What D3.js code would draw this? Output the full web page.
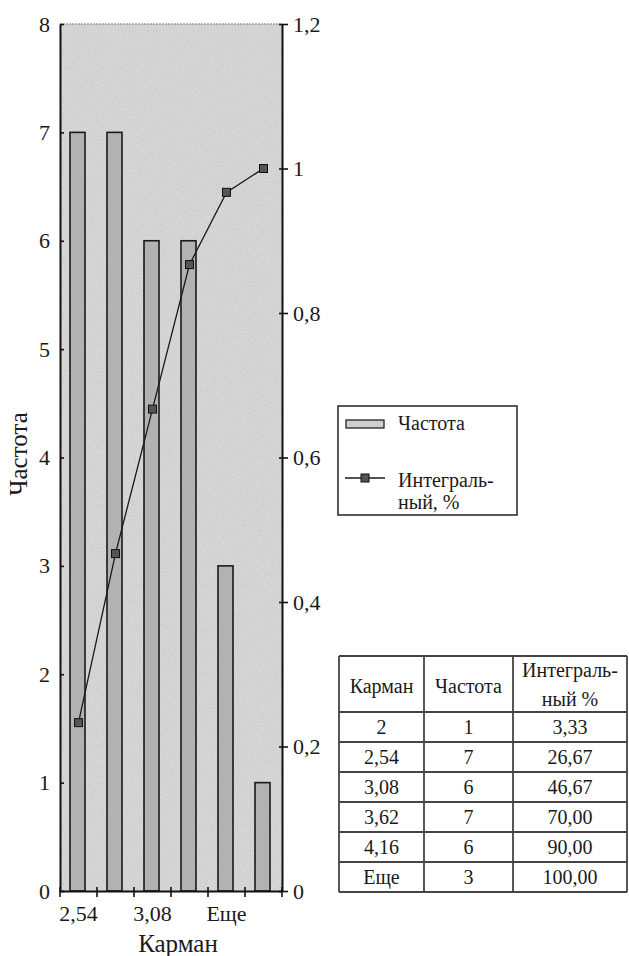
<!DOCTYPE html>
<html>
<head>
<meta charset="utf-8">
<script src="https://cdn.jsdelivr.net/npm/d3@7"></script>
<style>
  body { margin: 0; background: #fff; }
  svg { display: block; }
  svg text { font-family: "Liberation Serif", "Times New Roman", serif; }
</style>
</head>
<body>
<svg id="chart" width="629" height="956"></svg>
<script>
// chart data
var binIndex = [0, 1, 2, 3, 4, 5];
var tickLabels = ["2,54", "", "3,08", "", "Еще", ""];
var freq = [7, 7, 6, 6, 3, 1];
var cumul = [0.233, 0.467, 0.667, 0.867, 0.967, 1.0];
var leftTicks = [0, 1, 2, 3, 4, 5, 6, 7, 8];
var rightTicks = [0, 0.2, 0.4, 0.6, 0.8, 1, 1.2];

// table data
var tblBins = ["2", "2,54", "3,08", "3,62", "4,16", "Еще"];
var tblFreq = [1, 7, 6, 7, 6, 3];
var tblCum = [3.33, 26.67, 46.67, 70.00, 90.00, 100.00];

var ru = d3.formatLocale({ decimal: ",", thousands: " ", grouping: [3], currency: ["", ""] });
var fmtShort = ru.format("~g");
var fmt2 = ru.format(".2f");
var FONT = "Liberation Serif";

var svg = d3.select("#chart");
var m = { left: 60, right: 282, top: 24, bottom: 891 };

var x = d3.scaleBand().domain(binIndex).range([m.left, m.right]).padding(0);
var y = d3.scaleLinear().domain([0, 8]).range([m.bottom, m.top]);
var y2 = d3.scaleLinear().domain([0, 1.2]).range([m.bottom, m.top]);

// grain filter for the printed look
var defs = svg.append("defs");
var grain = defs.append("filter").attr("id", "grain")
    .attr("x", 0).attr("y", 0).attr("width", 1).attr("height", 1);
grain.append("feTurbulence").attr("type", "fractalNoise")
    .attr("baseFrequency", 0.9).attr("numOctaves", 2).attr("seed", 3).attr("result", "n");
grain.append("feColorMatrix").attr("in", "n").attr("type", "matrix")
    .attr("values", "0 0 0 0 0  0 0 0 0 0  0 0 0 0 0  0 0 0 -1.2 0.75");

// plot background
svg.append("rect")
    .attr("x", m.left).attr("y", m.top)
    .attr("width", m.right - m.left).attr("height", m.bottom - m.top)
    .attr("fill", "#d8d8d8");
svg.append("rect")
    .attr("x", m.left).attr("y", m.top)
    .attr("width", m.right - m.left).attr("height", m.bottom - m.top)
    .attr("fill", "#000").attr("opacity", 0.12)
    .attr("filter", "url(#grain)");
svg.append("line")
    .attr("x1", m.left).attr("x2", m.right)
    .attr("y1", m.top).attr("y2", m.top)
    .attr("stroke", "#777").attr("stroke-width", 1)
    .attr("stroke-dasharray", "2,1");

// bars
var barW = 15;
svg.append("g").selectAll("rect")
    .data(binIndex)
    .join("rect")
    .attr("x", function (d) { return x(d) + x.bandwidth() / 2 - barW / 2 - 1; })
    .attr("y", function (d) { return y(freq[d]); })
    .attr("width", barW)
    .attr("height", function (d) { return y(0) - y(freq[d]); })
    .attr("fill", "#b2b2b2")
    .attr("stroke", "#1a1a1a")
    .attr("stroke-width", 1.6);

// cumulative line
var line = d3.line()
    .x(function (d) { return x(d) + x.bandwidth() / 2; })
    .y(function (d) { return y2(cumul[d]); });
svg.append("path")
    .attr("d", line(binIndex))
    .attr("fill", "none")
    .attr("stroke", "#1a1a1a")
    .attr("stroke-width", 1.3);
svg.append("g").selectAll("rect")
    .data(binIndex)
    .join("rect")
    .attr("x", function (d) { return x(d) + x.bandwidth() / 2 - 4; })
    .attr("y", function (d) { return y2(cumul[d]) - 4; })
    .attr("width", 8).attr("height", 8)
    .attr("fill", "#555")
    .attr("stroke", "#111")
    .attr("stroke-width", 1);

// left axis
var gL = svg.append("g")
    .attr("transform", "translate(" + m.left + ",0)")
    .call(d3.axisLeft(y).tickValues(leftTicks).tickSizeInner(6).tickSizeOuter(0).tickPadding(4));
gL.selectAll(".tick line").attr("x2", 4);
// right axis
var gR = svg.append("g")
    .attr("transform", "translate(" + m.right + ",0)")
    .call(d3.axisRight(y2).tickValues(rightTicks).tickFormat(fmtShort).tickSizeInner(6).tickSizeOuter(0).tickPadding(5));
gR.selectAll(".tick line").attr("x1", -3);
// bottom axis: ticks on band boundaries, labels on centers
var gB = svg.append("g")
    .attr("transform", "translate(0," + m.bottom + ")")
    .call(d3.axisBottom(x).tickFormat(function (d) { return tickLabels[d]; }).tickSize(0).tickPadding(14));
gB.selectAll(".tick text").attr("dy", "0.71em");
gB.selectAll("line.bound")
    .data(d3.range(binIndex.length + 1))
    .join("line")
    .attr("class", "bound")
    .attr("x1", function (d) { return m.left + d * x.bandwidth(); })
    .attr("x2", function (d) { return m.left + d * x.bandwidth(); })
    .attr("y1", -4).attr("y2", 6)
    .attr("stroke", "#111").attr("stroke-width", 1.6);

[gL, gR, gB].forEach(function (g) {
    g.attr("font-family", FONT).attr("font-size", 22);
    g.select(".domain").attr("stroke", "#111").attr("stroke-width", 2);
    g.selectAll(".tick line").attr("stroke", "#111").attr("stroke-width", 1.6);
    g.selectAll(".tick text").attr("font-family", FONT).attr("font-size", 22).attr("fill", "#1a1a1a");
});

// axis titles
svg.append("text")
    .attr("transform", "translate(27,454) rotate(-90)")
    .attr("text-anchor", "middle")
    .attr("font-family", FONT)
    .attr("font-size", 25).attr("fill", "#1a1a1a")
    .text("Частота");
svg.append("text")
    .attr("x", 178).attr("y", 952)
    .attr("text-anchor", "middle")
    .attr("font-family", FONT)
    .attr("font-size", 25).attr("fill", "#1a1a1a")
    .text("Карман");

// legend
var lg = svg.append("g").attr("font-family", FONT);
lg.append("rect")
    .attr("x", 338).attr("y", 406).attr("width", 179).attr("height", 109)
    .attr("fill", "#fff").attr("stroke", "#222").attr("stroke-width", 1.5);
lg.append("rect")
    .attr("x", 346).attr("y", 420).attr("width", 38).attr("height", 8)
    .attr("fill", "#cfcfcf").attr("stroke", "#222").attr("stroke-width", 1.3);
lg.append("text").attr("x", 398).attr("y", 430).attr("font-size", 20).attr("fill", "#1a1a1a").text("Частота");
lg.append("line")
    .attr("x1", 345).attr("x2", 385).attr("y1", 478).attr("y2", 478)
    .attr("stroke", "#1a1a1a").attr("stroke-width", 1.3);
lg.append("rect")
    .attr("x", 361).attr("y", 474).attr("width", 8).attr("height", 8)
    .attr("fill", "#555").attr("stroke", "#111");
lg.append("text").attr("x", 398).attr("y", 487).attr("font-size", 20).attr("fill", "#1a1a1a").text("Интеграль-");
lg.append("text").attr("x", 398).attr("y", 509).attr("font-size", 20).attr("fill", "#1a1a1a").text("ный, %");

// table
var colX = [339, 424, 513, 627];
var headH = 56, rowH = 30, tTop = 656;
var tbl = svg.append("g").attr("font-family", FONT).attr("font-size", 20).attr("fill", "#1a1a1a");
var rows = tblBins.map(function (b, i) { return [b, String(tblFreq[i]), fmt2(tblCum[i])]; });
var tBottom = tTop + headH + rowH * rows.length;

// grid lines
tbl.selectAll("line.h")
    .data(d3.range(rows.length + 2))
    .join("line")
    .attr("x1", colX[0]).attr("x2", colX[3])
    .attr("y1", function (d) { return d === 0 ? tTop : tTop + headH + (d - 1) * rowH; })
    .attr("y2", function (d) { return d === 0 ? tTop : tTop + headH + (d - 1) * rowH; })
    .attr("stroke", "#444").attr("stroke-width", 1.8);
tbl.selectAll("line.v")
    .data(colX)
    .join("line")
    .attr("x1", function (d) { return d; }).attr("x2", function (d) { return d; })
    .attr("y1", tTop).attr("y2", tBottom)
    .attr("stroke", "#444").attr("stroke-width", 1.8);

function colC(j) { return (colX[j] + colX[j + 1]) / 2; }
tbl.append("text").attr("x", colC(0)).attr("y", 693).attr("text-anchor", "middle").text("Карман");
tbl.append("text").attr("x", colC(1)).attr("y", 693).attr("text-anchor", "middle").text("Частота");
tbl.append("text").attr("x", colC(2)).attr("y", 677).attr("text-anchor", "middle").text("Интеграль-");
tbl.append("text").attr("x", colC(2)).attr("y", 706).attr("text-anchor", "middle").text("ный %");

rows.forEach(function (r, i) {
    r.forEach(function (v, j) {
        tbl.append("text")
            .attr("x", colC(j))
            .attr("y", tTop + headH + (i + 1) * rowH - 8)
            .attr("text-anchor", "middle")
            .text(v);
    });
});
</script>
</body>
</html>
